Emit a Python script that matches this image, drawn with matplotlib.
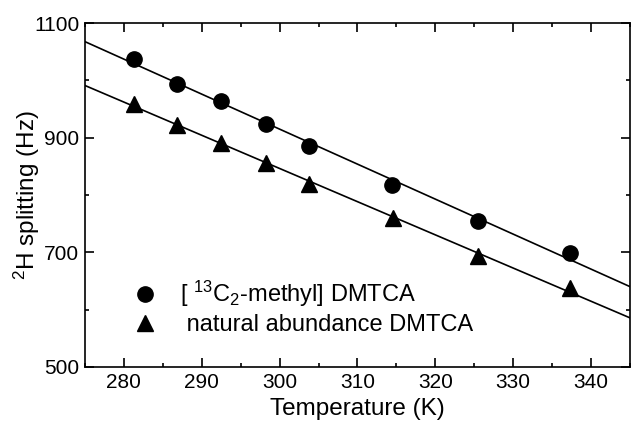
import matplotlib.pyplot as plt
import numpy as np
from matplotlib.ticker import FixedLocator, MultipleLocator

# data
temp_c13 = [281.3, 286.8, 292.5, 298.2, 303.8, 314.4, 325.5, 337.3]
split_c13 = [1038, 994, 964, 923, 886, 817, 755, 699]
temp_nat = [281.3, 286.8, 292.5, 298.2, 303.8, 314.5, 325.5, 337.3]
split_nat = [959, 922, 891, 856, 820, 760, 694, 637]
y_major = [500, 700, 900, 1100]
y_minor = [600, 800, 1000]

plt.rcParams['font.family'] = ['Liberation Sans', 'DejaVu Sans']
plt.rcParams['mathtext.fontset'] = 'custom'
plt.rcParams['mathtext.rm'] = 'Liberation Sans'

fig = plt.figure(figsize=(6.31, 4.23), dpi=100)
ax = fig.add_axes([0.1347, 0.1324, 0.8637, 0.8132])

xfit = np.array([275, 345])
for t, s, m, lab in [(temp_c13, split_c13, 'o', r'[ $\mathrm{^{13}C_2}$-methyl] DMTCA'),
                     (temp_nat, split_nat, '^', ' natural abundance DMTCA')]:
    p = np.polyfit(t, s, 1)
    ax.plot(xfit, np.polyval(p, xfit), color='black', lw=1.2)
    ax.plot(t, s, m, color='black', ms=11 if m == 'o' else 12, label=lab)

ax.set_xlim(275, 345)
ax.set_ylim(500, 1100)
ax.xaxis.set_major_locator(MultipleLocator(10))
ax.xaxis.set_minor_locator(MultipleLocator(5))
ax.yaxis.set_major_locator(FixedLocator(y_major))
ax.yaxis.set_minor_locator(FixedLocator(y_minor))
ax.tick_params(which='both', direction='in', top=True, right=True, width=1.2, labelsize=15)
ax.tick_params(which='major', length=6.5, pad=4)
ax.tick_params(which='minor', length=3.2)
for sp in ax.spines.values():
    sp.set_linewidth(1.2)

ax.set_xlabel('Temperature (K)', fontsize=17.5)
ax.set_ylabel(r'$\mathrm{^2}$H splitting (Hz)', fontsize=17.5)
ax.xaxis.set_label_coords(0.5, -0.091)
ax.yaxis.set_label_coords(-0.079, 0.5)

ax.legend(loc='center left', bbox_to_anchor=(0.071, 0.173), frameon=False,
          fontsize=17, handlelength=1.0, handletextpad=1.0, labelspacing=0.2,
          borderaxespad=0)

plt.savefig('out.png', dpi=100)
